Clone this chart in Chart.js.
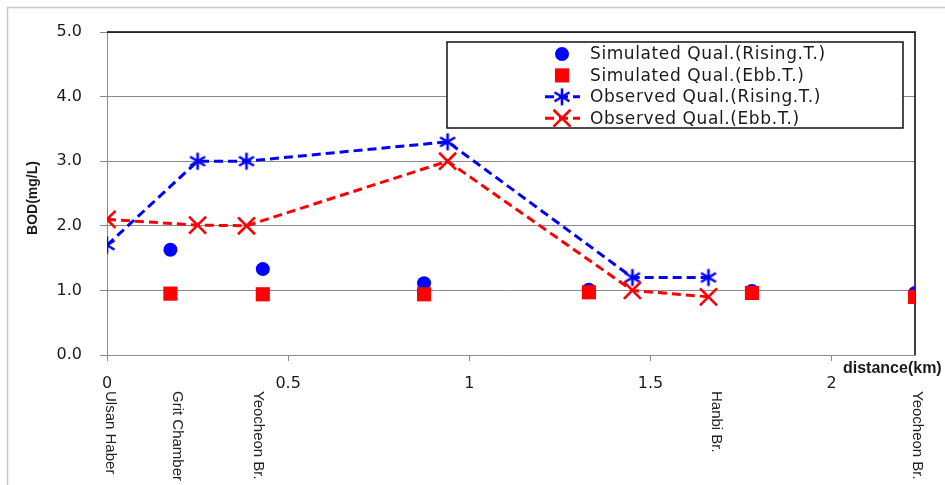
<!DOCTYPE html>
<html>
<head>
<meta charset="utf-8">
<title>BOD along the stream</title>
<script src="https://cdn.jsdelivr.net/npm/chart.js@4.4.1/dist/chart.umd.min.js"></script>
<style>
  html, body { margin: 0; padding: 0; background: #fff; }
  #bod-chart { display: block; }
</style>
</head>
<body>
<canvas id="bod-chart" width="945" height="485"></canvas>
<script>
/* =================================
  data
==================================== */
// observed stations (km from Ulsan Haber)
const obsDist = [0, 0.25, 0.385, 0.94, 1.45, 1.66];
const obsRising = [1.7, 3.0, 3.0, 3.3, 1.2, 1.2];
const obsEbb = [2.1, 2.01, 2.0, 3.0, 1.0, 0.9];

// simulated points
const simDist = [0.175, 0.43, 0.875, 1.33, 1.78, 2.23];
const simRising = [1.63, 1.33, 1.11, 1.01, 0.99, 0.96];
const simEbb = [0.95, 0.94, 0.94, 0.97, 0.96, 0.9];

// station names under the axis
const stationNames = ['Ulsan Haber', 'Grit Chamber', 'Yeocheon Br.', 'Hanbi Br.', 'Yeocheon Br.'];
const stationDist = [0.01, 0.193, 0.417, 1.68, 2.235];

// ticks
const xTicks = [0, 0.5, 1, 1.5, 2];
const yTicks = [0, 1, 2, 3, 4, 5];

const seriesLabels = [
    'Simulated Qual.(Rising.T.)',
    'Simulated Qual.(Ebb.T.)',
    'Observed Qual.(Rising.T.)',
    'Observed Qual.(Ebb.T.)'
];

const BLUE = '#0000ff';
const RED = '#ff0000';

/* =================================
  asterisk marker
==================================== */
function makeAsterisk(color) {
    const c = document.createElement('canvas');
    c.width = 20;
    c.height = 20;
    const g = c.getContext('2d');
    g.strokeStyle = color;
    g.lineWidth = 2.6;
    g.lineCap = 'butt';
    g.beginPath();
    g.moveTo(10, 1.5); g.lineTo(10, 18.5);
    g.moveTo(2.5, 5.5); g.lineTo(17.5, 14.5);
    g.moveTo(2.5, 14.5); g.lineTo(17.5, 5.5);
    g.stroke();
    return c;
}
const asterisk = makeAsterisk(BLUE);

function toPoints(xs, ys) {
    return xs.map((x, i) => ({ x: x, y: ys[i] }));
}

/* =================================
  plugins
==================================== */
const framePlugin = {
    id: 'frame',
    beforeDraw(chart) {
        const ctx = chart.ctx;
        ctx.save();
        ctx.fillStyle = '#fff';
        ctx.fillRect(0, 0, chart.width, chart.height);
        ctx.strokeStyle = '#c8c8c8';
        ctx.lineWidth = 1.5;
        ctx.strokeRect(7.5, 7.5, chart.width + 20, chart.height + 20);
        ctx.restore();
    },
    beforeDatasetsDraw(chart) {
        const ctx = chart.ctx;
        const a = chart.chartArea;
        ctx.save();
        ctx.strokeStyle = '#000';
        ctx.lineWidth = 1.5;
        ctx.beginPath();
        ctx.moveTo(a.left, a.top);
        ctx.lineTo(a.right, a.top);
        ctx.lineTo(a.right, a.bottom);
        ctx.stroke();
        ctx.restore();
    }
};

function drawMarker(ctx, ds, x, y) {
    ctx.save();
    if (ds.pointStyle === 'circle') {
        ctx.fillStyle = ds.pointBackgroundColor;
        ctx.beginPath();
        ctx.arc(x, y, ds.pointRadius, 0, Math.PI * 2);
        ctx.fill();
    } else if (ds.pointStyle === 'rect') {
        const s = ds.pointRadius * Math.SQRT1_2;
        ctx.fillStyle = ds.pointBackgroundColor;
        ctx.fillRect(x - s, y - s, 2 * s, 2 * s);
    } else if (ds.pointStyle === 'crossRot') {
        const o = ds.pointRadius * Math.SQRT1_2;
        ctx.strokeStyle = ds.pointBorderColor;
        ctx.lineWidth = ds.pointBorderWidth;
        ctx.beginPath();
        ctx.moveTo(x - o, y - o); ctx.lineTo(x + o, y + o);
        ctx.moveTo(x - o, y + o); ctx.lineTo(x + o, y - o);
        ctx.stroke();
    } else {
        const img = ds.pointStyle;
        ctx.drawImage(img, x - img.width / 2, y - img.height / 2);
    }
    ctx.restore();
}

const textPlugin = {
    id: 'texts',
    afterDraw(chart) {
        const ctx = chart.ctx;
        const xs = chart.scales.x;
        ctx.save();

        // y title
        ctx.fillStyle = '#1a1a1a';
        ctx.font = 'bold 14px "Liberation Sans"';
        ctx.textAlign = 'center';
        ctx.textBaseline = 'middle';
        ctx.translate(33, 198);
        ctx.rotate(-Math.PI / 2);
        ctx.fillText('BOD(mg/L)', 0, 0);
        ctx.setTransform(1, 0, 0, 1, 0, 0);

        // x title
        ctx.font = 'bold 16px "Liberation Sans"';
        ctx.textAlign = 'left';
        ctx.fillText('distance(km)', 843, 369);

        // station names
        ctx.font = '15px "Liberation Sans"';
        ctx.fillStyle = '#222';
        ctx.textBaseline = 'middle';
        for (let i = 0; i < stationNames.length; i++) {
            const px = xs.getPixelForValue(stationDist[i]);
            ctx.setTransform(1, 0, 0, 1, 0, 0);
            ctx.translate(px, 391);
            ctx.rotate(Math.PI / 2);
            ctx.fillText(stationNames[i], 0, 0);
        }
        ctx.setTransform(1, 0, 0, 1, 0, 0);

        // legend box
        const box = { left: 447, top: 42, right: 903, bottom: 128 };
        ctx.fillStyle = '#fff';
        ctx.fillRect(box.left, box.top, box.right - box.left, box.bottom - box.top);
        ctx.strokeStyle = '#111';
        ctx.lineWidth = 1.5;
        ctx.strokeRect(box.left, box.top, box.right - box.left, box.bottom - box.top);

        ctx.font = '17px "DejaVu Sans"';
        if ('letterSpacing' in ctx) ctx.letterSpacing = '0.6px';
        ctx.textAlign = 'left';
        ctx.textBaseline = 'middle';
        chart.data.datasets.forEach((ds, i) => {
            const y = 54 + i * 21.4;
            if (ds.showLine) {
                ctx.save();
                ctx.strokeStyle = ds.borderColor;
                ctx.lineWidth = ds.borderWidth;
                ctx.setLineDash(ds.borderDash);
                ctx.beginPath();
                ctx.moveTo(545, y);
                ctx.lineTo(580, y);
                ctx.stroke();
                ctx.restore();
            }
            drawMarker(ctx, ds, 562, y);
            ctx.fillStyle = '#1a1a1a';
            ctx.fillText(ds.label, 590, y + 1);
        });
        ctx.restore();
    }
};

/* =================================
  chart
==================================== */
const bodCanvas = document.getElementById('bod-chart');

let bodData = {
    datasets: [{
        label: seriesLabels[0],
        data: toPoints(simDist, simRising),
        showLine: false,
        pointStyle: 'circle',
        pointRadius: 7,
        pointBackgroundColor: BLUE,
        pointBorderColor: BLUE,
        pointBorderWidth: 0,
        order: 4
    }, {
        label: seriesLabels[1],
        data: toPoints(simDist, simEbb),
        showLine: false,
        pointStyle: 'rect',
        pointRadius: 10,
        pointBackgroundColor: RED,
        pointBorderColor: RED,
        pointBorderWidth: 0,
        order: 3
    }, {
        label: seriesLabels[2],
        data: toPoints(obsDist, obsRising),
        showLine: true,
        borderColor: BLUE,
        borderWidth: 3,
        borderDash: [9, 5],
        pointStyle: asterisk,
        pointRadius: 9,
        pointBorderColor: BLUE,
        pointBackgroundColor: BLUE,
        order: 2
    }, {
        label: seriesLabels[3],
        data: toPoints(obsDist, obsEbb),
        showLine: true,
        borderColor: RED,
        borderWidth: 3,
        borderDash: [9, 5],
        pointStyle: 'crossRot',
        pointRadius: 12,
        pointBorderColor: RED,
        pointBackgroundColor: RED,
        pointBorderWidth: 2.6,
        order: 1
    }]
};

let bodOptions = {
    responsive: false,
    devicePixelRatio: 1,
    animation: false,
    layout: {
        padding: { top: 32, right: 30, bottom: 0, left: 0 }
    },
    scales: {
        x: {
            type: 'linear',
            min: 0,
            max: 2.23,
            afterFit: (s) => { s.height = 130; },
            afterBuildTicks: (s) => { s.ticks = xTicks.map(v => ({ value: v })); },
            grid: {
                drawOnChartArea: false,
                drawTicks: true,
                tickLength: 6,
                color: '#8a8a8a'
            },
            border: { color: '#8a8a8a', width: 1 },
            ticks: {
                padding: 13,
                color: '#1a1a1a',
                font: { family: '"DejaVu Sans"', size: 16 },
                maxRotation: 0,
                callback: (v) => String(v)
            }
        },
        y: {
            min: 0,
            max: 5,
            afterFit: (s) => { s.width = 107; },
            afterBuildTicks: (s) => { s.ticks = yTicks.map(v => ({ value: v })); },
            grid: {
                color: '#8a8a8a',
                tickLength: 7
            },
            border: { color: '#8a8a8a', width: 1 },
            ticks: {
                padding: 18,
                color: '#1a1a1a',
                font: { family: '"DejaVu Sans"', size: 16 },
                callback: (v) => v.toFixed(1)
            }
        }
    },
    plugins: {
        legend: { display: false },
        tooltip: { enabled: false }
    }
};

let bodChart = new Chart(bodCanvas, {
    type: 'scatter',
    data: bodData,
    options: bodOptions,
    plugins: [framePlugin, textPlugin]
});
</script>
</body>
</html>
